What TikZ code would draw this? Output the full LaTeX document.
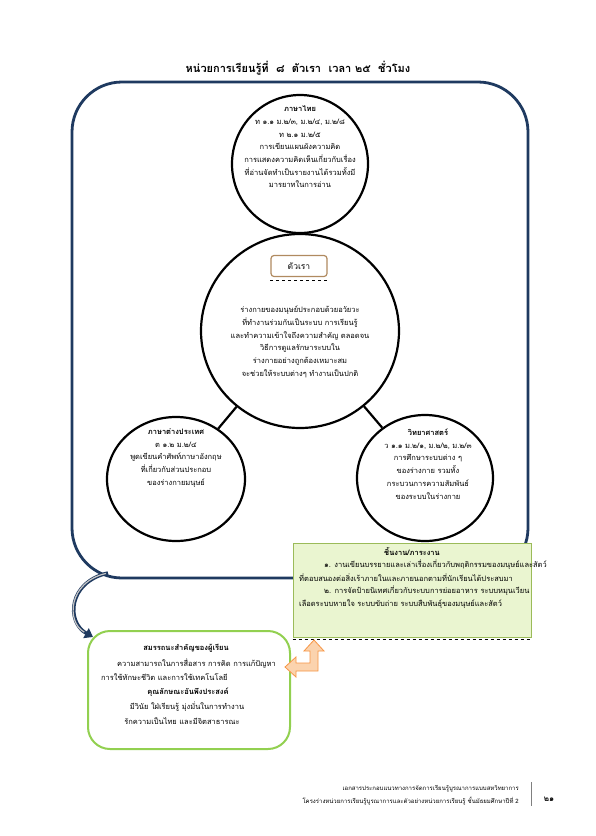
\documentclass[tikz,border=0pt]{standalone}
\usepackage{fontspec}
\setmainfont[Script=Thai]{Loma}
\usetikzlibrary{shapes.geometric,arrows.meta,positioning}

\definecolor{framenavy}{HTML}{1F3A60}
\definecolor{taskfill}{HTML}{EAF5D0}
\definecolor{taskline}{HTML}{9BBB59}
\definecolor{skillline}{HTML}{92D050}
\definecolor{tagbrown}{HTML}{B08A60}
\definecolor{bendline}{HTML}{F79646}
\definecolor{bendfill}{HTML}{FBD3AE}

\tikzset{
  bubble/.style={ellipse, draw=black, line width=2.2pt, fill=white, inner sep=0pt},
  link/.style={line width=2.2pt},
  txt/.style={align=center, font=\fontsize{7.5}{12.7}\selectfont, inner sep=0pt},
  ltxt/.style={anchor=west, font=\fontsize{7.5}{12.7}\selectfont, inner sep=0pt},
}

\begin{document}
\begin{tikzpicture}[x=1pt,y=-1pt]
    \useasboundingbox (0,0) rectangle (595,836);
    \fill[white] (0,0) rectangle (595,836);

    % -----------------------------------------------------
    % 1) Titulo
    % -----------------------------------------------------
    \node[font=\fontsize{11}{12}\selectfont\bfseries] (title) at (298,68)
        {หน่วยการเรียนรู้ที่~~๘~~ตัวเรา~~เวลา ๒๕~~ชั่วโมง};

    % -----------------------------------------------------
    % 2) Marco azul y flecha curva
    % -----------------------------------------------------
    \draw[framenavy, line width=2.8pt, rounded corners=50] (72,82) rectangle (528,578);
    \draw[framenavy, line width=3.5pt, -{Triangle[length=8pt,width=11pt]}]
        (108,573) .. controls (68,582) and (66,622) .. (93,637);
    \draw[gray!45, line width=1.2pt, shorten >=10pt, shorten <=2pt]
        (108,573) .. controls (68,582) and (66,622) .. (93,637);

    % -----------------------------------------------------
    % 3) Circulos y enlaces
    % -----------------------------------------------------
    \node[bubble, minimum width=136, minimum height=138] (thai) at (300,164) {};
    \node[bubble, minimum width=198, minimum height=194] (core) at (300,331) {};
    \node[bubble, minimum width=138, minimum height=124] (foreign) at (176,479) {};
    \node[bubble, minimum width=136, minimum height=126] (science) at (425,478) {};
    \draw[link] (thai) -- (core);
    \draw[link] (core) -- (foreign);
    \draw[link] (core) -- (science);

    % -----------------------------------------------------
    % 4) Textos de los circulos
    % -----------------------------------------------------
    \node[txt] (thaitxt) at (300,147) {\textbf{ภาษาไทย}\\
        ท ๑.๑ ม.๒/๓, ม.๒/๔, ม.๒/๘\\
        ท ๒.๑ ม.๒/๕\\
        การเขียนแผนผังความคิด\\
        การแสดงความคิดเห็นเกี่ยวกับเรื่อง\\
        ที่อ่านจัดทำเป็นรายงานได้รวมทั้งมี\\
        มารยาทในการอ่าน};

    \node[draw=tagbrown, line width=1.2pt, rounded corners=3, fill=white,
          minimum width=56, minimum height=21, font=\fontsize{8.5}{10}\selectfont]
        (tag) at (299,266) {ตัวเรา};
    \draw[dashed, line width=1.2pt] ([yshift=-3]tag.south west) -- ([yshift=-3]tag.south east);

    \node[txt] (coretxt) at (300,342) {ร่างกายของมนุษย์ประกอบด้วยอวัยวะ\\
        ที่ทำงานร่วมกันเป็นระบบ การเรียนรู้\\
        และทำความเข้าใจถึงความสำคัญ ตลอดจน\\
        วิธีการดูแลรักษาระบบใน\\
        ร่างกายอย่างถูกต้องเหมาะสม\\
        จะช่วยให้ระบบต่างๆ ทำงานเป็นปกติ};

    \node[txt] (foreigntxt) at (176,458) {\textbf{ภาษาต่างประเทศ}\\
        ต ๑.๒ ม.๒/๔\\
        พูดเขียนคำศัพท์ภาษาอังกฤษ\\
        ที่เกี่ยวกับส่วนประกอบ\\
        ของร่างกายมนุษย์};

    \node[txt] (sciencetxt) at (428,464) {\textbf{วิทยาศาสตร์}\\
        ว ๑.๑ ม.๒/๑, ม.๒/๒, ม.๒/๓\\
        การศึกษาระบบต่าง ๆ\\
        ของร่างกาย รวมทั้ง\\
        กระบวนการความสัมพันธ์\\
        ของระบบในร่างกาย};

    % -----------------------------------------------------
    % 5) Caja verde: chinngan
    % -----------------------------------------------------
    \node[draw=taskline, line width=0.8pt, fill=taskfill, minimum width=238,
          minimum height=94, inner sep=0pt] (tasks) at (412,590) {};
    \draw[dashed, line width=1.2pt] ([yshift=-2]tasks.south west) -- ([yshift=-2]tasks.south east);
    \node[txt, font=\fontsize{7.5}{12.7}\selectfont\bfseries] (taskhead) at (412,552) {ชิ้นงาน/ภาระงาน};
    \node[ltxt] (task1) at (324,565) {๑. งานเขียนบรรยายและเล่าเรื่องเกี่ยวกับพฤติกรรมของมนุษย์และสัตว์};
    \node[ltxt] (task2) at (299,578) {ที่ตอบสนองต่อสิ่งเร้าภายในและภายนอกตามที่นักเรียนได้ประสบมา};
    \node[ltxt] (task3) at (324,591) {๒. การจัดป้ายนิเทศเกี่ยวกับระบบการย่อยอาหาร ระบบหมุนเวียน};
    \node[ltxt] (task4) at (299,604) {เลือดระบบหายใจ ระบบขับถ่าย ระบบสืบพันธุ์ของมนุษย์และสัตว์};

    % -----------------------------------------------------
    % 6) Caja de competencias
    % -----------------------------------------------------
    \node[draw=skillline, line width=2pt, rounded corners=22, fill=white,
          minimum width=202, minimum height=118, inner sep=0pt] (skills) at (189,690) {};
    \node[txt, font=\fontsize{7.5}{12.7}\selectfont\bfseries] (skillhead) at (186,648) {สมรรถนะสำคัญของผู้เรียน};
    \node[ltxt] (skill1) at (117,663) {ความสามารถในการสื่อสาร การคิด การแก้ปัญหา};
    \node[ltxt] (skill2) at (101,677) {การใช้ทักษะชีวิต และการใช้เทคโนโลยี};
    \node[txt, font=\fontsize{7.5}{12.7}\selectfont\bfseries] (traithead) at (188,692) {คุณลักษณะอันพึงประสงค์};
    \node[txt] (trait1) at (187,707) {มีวินัย ใฝ่เรียนรู้ มุ่งมั่นในการทำงาน};
    \node[txt] (trait2) at (182,721) {รักความเป็นไทย และมีจิตสาธารณะ};

    % -----------------------------------------------------
    % 7) Flecha naranja doble
    % -----------------------------------------------------
    \filldraw[draw=bendline, fill=bendfill, line width=0.8pt]
        (314,640) -- (324,651) -- (318,651) -- (318,671) -- (296,671) -- (296,677)
        -- (285,667) -- (296,657) -- (296,663) -- (310,663) -- (310,651) -- (304,651) -- cycle;

    % -----------------------------------------------------
    % 8) Pie de pagina
    % -----------------------------------------------------
    \node[anchor=east, inner sep=0pt, font=\fontsize{6}{8}\selectfont] (foot1) at (519,789)
        {เอกสารประกอบแนวทางการจัดการเรียนรู้บูรณาการแบบสหวิทยาการ};
    \node[anchor=east, inner sep=0pt, font=\fontsize{6}{8}\selectfont] (foot2) at (519,801)
        {โครงร่างหน่วยการเรียนรู้บูรณาการและตัวอย่างหน่วยการเรียนรู้ ชั้นมัธยมศึกษาปีที่ 2};
    \draw[gray, line width=0.8pt] (531,782) -- (531,806);
    \node[font=\fontsize{8}{10}\selectfont\bfseries, inner sep=0pt] (pagenum) at (549,799) {๒๑};
\end{tikzpicture}
\end{document}
